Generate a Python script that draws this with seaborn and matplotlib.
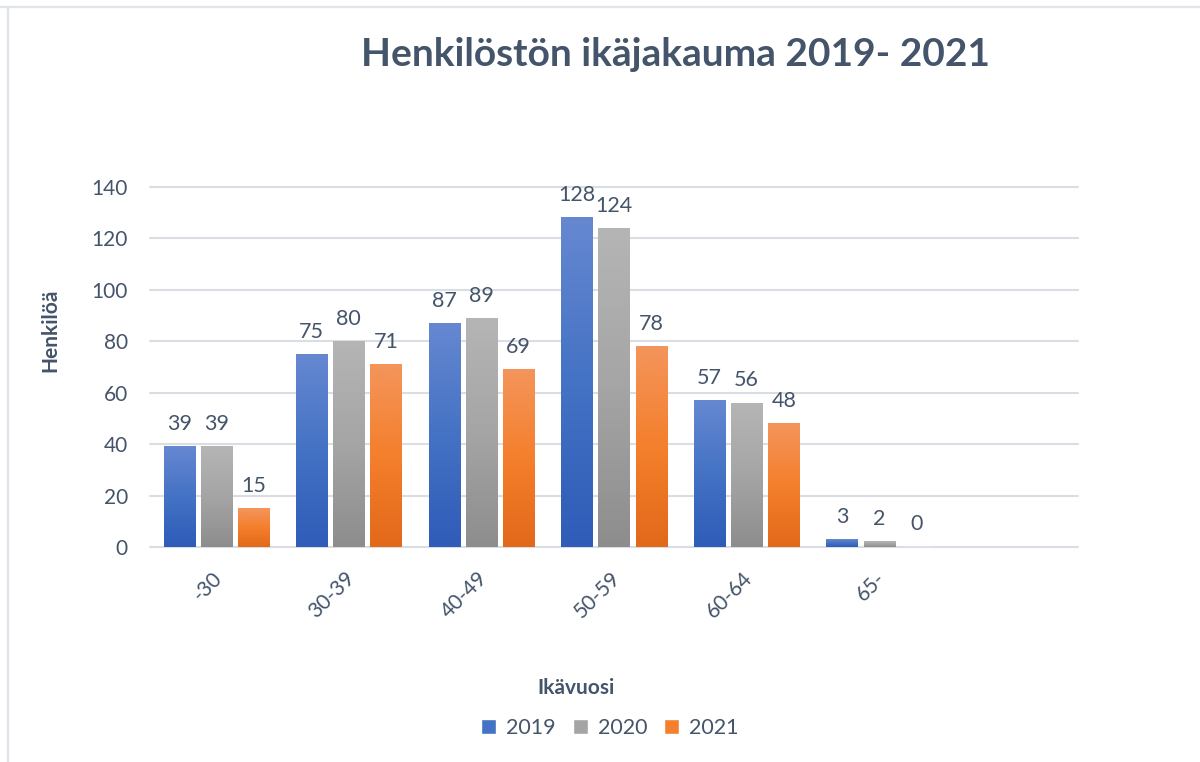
import numpy as np
import pandas as pd
import matplotlib
matplotlib.use("Agg")
import matplotlib.pyplot as plt
import matplotlib.colors as mcolors
import matplotlib.transforms as mtransforms
from matplotlib.patches import Patch
from matplotlib.lines import Line2D
import seaborn as sns

# Data
age_groups = ["-30", "30-39", "40-49", "50-59", "60-64", "65-"]
years = ["2019", "2020", "2021"]
values_2019 = [39, 75, 87, 128, 57, 3]
values_2020 = [39, 80, 89, 124, 56, 2]
values_2021 = [15, 71, 69, 78, 48, 0]

title = "Henkilöstön ikäjakauma 2019- 2021"
x_label = "Ikävuosi"
y_label = "Henkilöä"
y_ticks = [0, 20, 40, 60, 80, 100, 120, 140]

text_color = "#44546A"
grid_color = "#D9DDE4"
# top, middle, bottom colours of the bar gradients
gradients = {
    "2019": ["#6688D1", "#4472C4", "#2E5CB8"],
    "2020": ["#B5B5B5", "#A5A5A5", "#8D8D8D"],
    "2021": ["#F4955C", "#F47F2C", "#E2691A"],
}
solid = {y: g[1] for y, g in gradients.items()}

df = pd.DataFrame({
    "ika": age_groups * 3,
    "vuosi": [y for y in years for _ in age_groups],
    "henkiloa": values_2019 + values_2020 + values_2021,
})

sns.set_theme(style="white")
plt.rcParams["font.family"] = ["Lato", "DejaVu Sans"]

fig = plt.figure(figsize=(12, 7.62), dpi=100)
ax = fig.add_axes([150 / 1200, 1 - 547 / 762, 928 / 1200, 360 / 762])

sns.barplot(data=df, x="ika", y="henkiloa", hue="vuosi", order=age_groups,
            hue_order=years, palette=solid, width=0.84, gap=0.16,
            errorbar=None, ax=ax)
ax.get_legend().remove()

# gradient fill for each bar
for container, year in zip(ax.containers, years):
    cmap = mcolors.LinearSegmentedColormap.from_list(year, gradients[year])
    grad = np.linspace(0, 1, 256).reshape(-1, 1)
    for bar in container:
        h = bar.get_height()
        if h <= 0:
            continue
        x0, w = bar.get_x(), bar.get_width()
        ax.imshow(grad, cmap=cmap, extent=(x0, x0 + w, 0, h), aspect="auto",
                  zorder=bar.get_zorder(), interpolation="bilinear")
        bar.set_facecolor("none")
        bar.set_edgecolor("none")
    ax.bar_label(container, padding=9, fontsize=15.5, color=text_color)

ax.set_xlim(-0.5, 6.5)
ax.set_ylim(0, 140)
ax.set_yticks(y_ticks)
ax.yaxis.grid(True, color=grid_color, linewidth=1.5)
for gl in ax.get_ygridlines():
    gl.set_clip_on(False)
ax.set_axisbelow(True)
for s in ax.spines.values():
    s.set_visible(False)

ax.tick_params(axis="both", length=0, labelsize=15, labelcolor=text_color)
ax.tick_params(axis="y", pad=16)
ax.tick_params(axis="x", pad=15)
offset = mtransforms.ScaledTranslation(-4 / 100, 0, fig.dpi_scale_trans)
for lbl in ax.get_xticklabels():
    lbl.set_rotation(45)
    lbl.set_ha("right")
    lbl.set_rotation_mode("anchor")
    lbl.set_transform(lbl.get_transform() + offset)
ax.set_xlabel("")
ax.set_ylabel("")

fig.text(675 / 1200, 1 - 55 / 762, title, ha="center", va="center",
         fontsize=28, fontweight="bold", color=text_color)
fig.text(50 / 1200, 1 - 330 / 762, y_label, ha="center", va="center",
         rotation=90, fontsize=15, fontweight="bold", color=text_color)
fig.text(576 / 1200, 1 - 688 / 762, x_label, ha="center", va="center",
         fontsize=15, fontweight="bold", color=text_color)

handles = [Patch(facecolor=solid[y], label=y) for y in years]
leg = fig.legend(handles=handles, loc="center", ncol=3, frameon=False,
                 bbox_to_anchor=(610 / 1200, 1 - 728 / 762), fontsize=15.5,
                 handlelength=0.7, handleheight=0.7, handletextpad=0.45,
                 columnspacing=0.8)
for t in leg.get_texts():
    t.set_color(text_color)

# chart frame (top and left edges)
fig.add_artist(Line2D([0, 1], [1 - 6.5 / 762] * 2, color="#DFE3EA", lw=1.6,
                      transform=fig.transFigure))
fig.add_artist(Line2D([8 / 1200] * 2, [0, 1 - 6.5 / 762], color="#DFE3EA", lw=1.6,
                      transform=fig.transFigure))

fig.savefig("out.png", dpi=100, facecolor="white")
